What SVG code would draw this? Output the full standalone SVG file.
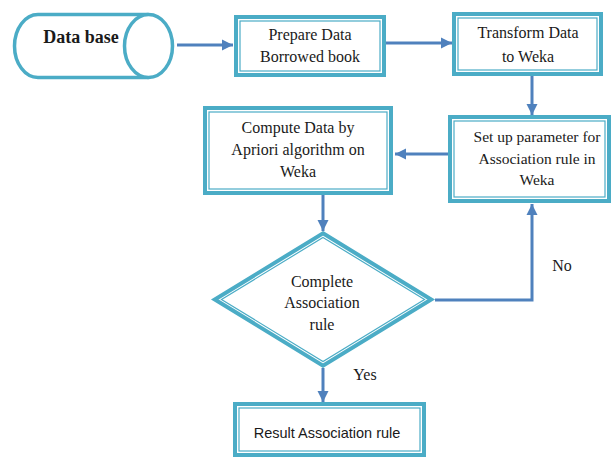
<svg xmlns="http://www.w3.org/2000/svg" width="616" height="457" viewBox="0 0 616 457">
<style>
.outer{fill:#fff;stroke:#4bacc6;stroke-width:4}
.inner{fill:none;stroke:#4bacc6;stroke-width:1.2}
.t{font-family:"Liberation Serif","Times New Roman",serif;font-size:16px;fill:#1a1a1a;text-anchor:middle}
.s{font-family:"Liberation Sans",Arial,sans-serif;font-size:14.5px;fill:#1a1a1a;text-anchor:middle}
.c{fill:none;stroke:#4f81bd;stroke-width:3}
</style>
<defs>
<marker id="ah" markerUnits="userSpaceOnUse" markerWidth="14" markerHeight="14" viewBox="0 0 14 14" refX="12" refY="7" orient="auto">
<path d="M1,1.5 L12,7 L1,12.5 Z" fill="#4f81bd"/>
</marker>
</defs>
<rect width="616" height="457" fill="#fff"/>
<g id="connectors">
<line class="c" x1="177" y1="45" x2="233" y2="45" marker-end="url(#ah)"/>
<line class="c" x1="386" y1="43" x2="452" y2="43" marker-end="url(#ah)"/>
<line class="c" x1="532" y1="76" x2="532" y2="115" marker-end="url(#ah)"/>
<line class="c" x1="448" y1="154" x2="395" y2="154" marker-end="url(#ah)"/>
<line class="c" x1="323" y1="195" x2="323" y2="231" marker-end="url(#ah)"/>
<polyline class="c" points="435,300 532,300 532,204" marker-end="url(#ah)"/>
<line class="c" x1="323" y1="368" x2="323" y2="402" marker-end="url(#ah)"/>
<text class="t" x="562" y="271">No</text>
<text class="t" x="365" y="380">Yes</text>
</g>
<g id="database">
<path d="M148.5,14.5 L38,14.5 A23.5,31.5 0 0 0 38,77.5 L148.5,77.5" fill="#fff" stroke="#4bacc6" stroke-width="3.5"/>
<ellipse cx="148.5" cy="46" rx="24" ry="31.5" fill="#fff" stroke="#4bacc6" stroke-width="3.5"/>
<text x="81" y="43" font-family="Liberation Serif,Times New Roman,serif" font-size="18" font-weight="bold" fill="#1a1a1a" text-anchor="middle">Data base</text>
</g>
<g id="prepare">
<rect class="outer" x="236" y="17" width="148" height="58"/>
<rect class="inner" x="240" y="21" width="140" height="50"/>
<text class="t" x="310" y="40">Prepare Data</text>
<text class="t" x="310" y="62">Borrowed book</text>
</g>
<g id="transform">
<rect class="outer" x="454" y="14" width="147" height="60"/>
<rect class="inner" x="458" y="18" width="139" height="52"/>
<text class="t" x="528" y="38">Transform Data</text>
<text class="t" x="528" y="62">to Weka</text>
</g>
<g id="setup">
<rect class="outer" x="450" y="117" width="159" height="84"/>
<rect class="inner" x="454" y="121" width="151" height="76"/>
<text class="t" x="537" y="142" style="font-size:15.5px">Set up parameter for</text>
<text class="t" x="537" y="164" style="font-size:15.5px">Association rule in</text>
<text class="t" x="537" y="185" style="font-size:15.5px">Weka</text>
</g>
<g id="compute">
<rect class="outer" x="205" y="108" width="186" height="85"/>
<rect class="inner" x="209" y="112" width="178" height="77"/>
<text class="t" x="298" y="133">Compute Data by</text>
<text class="t" x="298" y="155">Apriori algorithm on</text>
<text class="t" x="298" y="177">Weka</text>
</g>
<g id="decision">
<polygon class="outer" points="323,233.3 431.2,299.5 323,365.7 214.8,299.5"/>
<polygon class="inner" points="323,237.5 424.5,299.5 323,361.5 221.5,299.5"/>
<text class="t" x="322" y="287">Complete</text>
<text class="t" x="322" y="308">Association</text>
<text class="t" x="322" y="330">rule</text>
</g>
<g id="result">
<rect class="outer" x="235" y="404" width="189" height="51"/>
<rect class="inner" x="239" y="408" width="181" height="43"/>
<text class="s" x="327" y="438">Result Association rule</text>
</g>
</svg>
